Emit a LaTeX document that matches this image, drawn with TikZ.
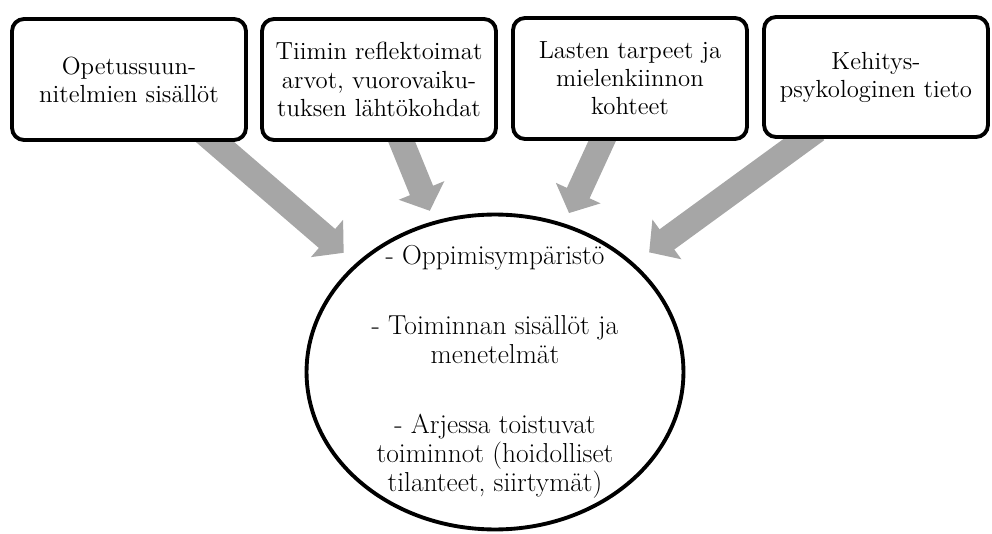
\documentclass[tikz,border=0pt]{standalone}
\usepackage{tikz}
\usetikzlibrary{arrows.meta,calc,positioning,shapes.geometric}
\definecolor{arrgray}{RGB}{166,166,166}
\pgfdeclarelayer{bg}
\pgfsetlayers{bg,main}
\tikzset{
  srcbox/.style={rectangle,rounded corners=0.24cm,draw=black,line width=2.2pt,
    fill=white,minimum width=4.68cm,minimum height=2.42cm,align=center,
    inner sep=3pt,font=\fontsize{14.1}{16}\selectfont},
  centre/.style={ellipse,draw=black,line width=2.2pt,fill=white,
    minimum width=7.54cm,minimum height=6.3cm,align=center,
    inner xsep=-0.2cm,inner ysep=-0.45cm,font=\fontsize{15.6}{16.5}\selectfont},
  % broad grey block arrows from the boxes to the ellipse
  fat/.style={-{Triangle[width=0.96cm,length=0.44cm]},line width=0.5cm,
    draw=arrgray,shorten <=-0.3cm}
}

\begin{document}
\begin{tikzpicture}[x=0.02cm,y=-0.02cm]
  \useasboundingbox (0,0) rectangle (992,534);
  \node[srcbox] (opsi) at (129,79.5) {Opetussuun-\\nitelmien sisällöt};
  \node[srcbox] (tiimi) at (379,79.5) {Tiimin reflektoimat\\arvot, vuorovaiku-\\tuksen lähtökohdat};
  \node[srcbox] (lapset) at (630,78.5) {Lasten tarpeet ja\\mielenkiinnon\\kohteet};
  \node[srcbox,minimum width=4.48cm,minimum height=2.4cm] (kehitys) at (876,77) {Kehitys-\\psykologinen tieto};
  \node[centre] (ymp) at (495,372) {- Oppimisympäristö\\[0.82cm]
    - Toiminnan sisällöt ja\\menetelmät\\[0.82cm]
    - Arjessa toistuvat\\toiminnot (hoidolliset\\tilanteet, siirtymät)};
  \begin{pgfonlayer}{bg}
    \draw[fat,shorten >=0.32cm] (opsi.-36) -- (ymp.142);
    \draw[fat,shorten >=0.22cm] (tiimi.-70) -- (ymp.112);
    \draw[fat,shorten >=0.23cm] (lapset.-114) -- (ymp.65);
    \draw[fat,shorten >=0.37cm] (kehitys.-139) -- (ymp.38);
  \end{pgfonlayer}
\end{tikzpicture}
\end{document}
